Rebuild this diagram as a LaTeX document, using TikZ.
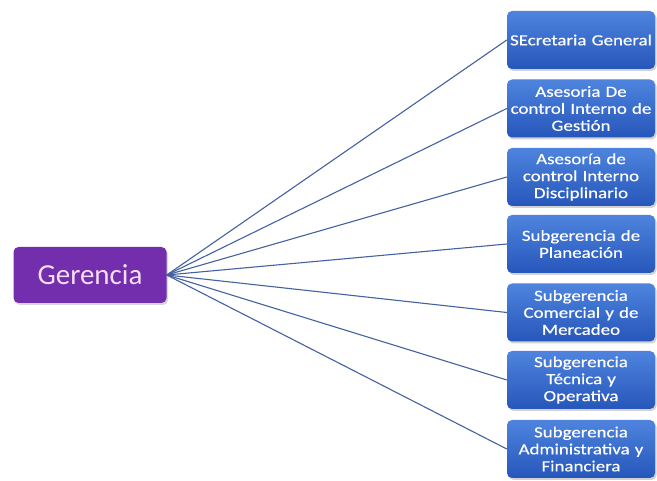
\documentclass[tikz,border=0pt]{standalone}
\usepackage{fontspec}
\newfontfamily\boxfont[FakeStretch=1.22,FakeBold=0.4]{Carlito}
\newfontfamily\headfont{Carlito}
\usetikzlibrary{shadows}
\definecolor{linkblue}{RGB}{68,98,160}
\definecolor{deptTop}{RGB}{78,132,222}
\definecolor{deptBot}{RGB}{38,86,186}
\definecolor{headFill}{RGB}{114,46,172}
\definecolor{headText}{RGB}{246,222,246}
\tikzset{
  dept/.style={rectangle, rounded corners=5pt, minimum width=148pt, minimum height=58pt,
    text width=146pt, align=center, inner sep=0pt,
    top color=deptTop, bottom color=deptBot, draw=none,
    drop shadow={opacity=0.35, shadow xshift=1.5pt, shadow yshift=-2pt},
    text=white, font=\boxfont\fontsize{15.5pt}{17pt}\selectfont},
  head/.style={rectangle, rounded corners=5pt, minimum width=153pt, minimum height=56pt,
    inner sep=0pt, fill=headFill, draw=none,
    drop shadow={opacity=0.3, shadow xshift=1.5pt, shadow yshift=-2pt},
    text=headText, font=\headfont\fontsize{29pt}{34pt}\selectfont},
  link/.style={draw=linkblue, line width=1.1pt}
}
\begin{document}
\begin{tikzpicture}[x=1pt, y=-1pt]
\useasboundingbox (0,0) rectangle (657,481);
\fill[white] (0,0) rectangle (657,481);

\node[head] (ger) at (90,275) {Gerencia};

\node[dept] (d1) at (581,40)    {SEcretaria General};
\node[dept] (d2) at (581,108.5) {Asesoria De\\control Interno de\\Gestión};
\node[dept] (d3) at (581,177)   {Asesoría de\\control Interno\\Disciplinario};
\node[dept] (d4) at (581,244)   {Subgerencia de\\Planeación};
\node[dept] (d5) at (581,312.5) {Subgerencia\\Comercial y de\\Mercadeo};
\node[dept] (d6) at (581,380)   {Subgerencia\\Técnica y\\Operativa};
\node[dept] (d7) at (581,449)   {Subgerencia\\Administrativa y\\Financiera};

\foreach \d in {d1,d2,d3,d4,d5,d6,d7}
  \draw[link] (ger.east) -- (\d.west);
\end{tikzpicture}
\end{document}
